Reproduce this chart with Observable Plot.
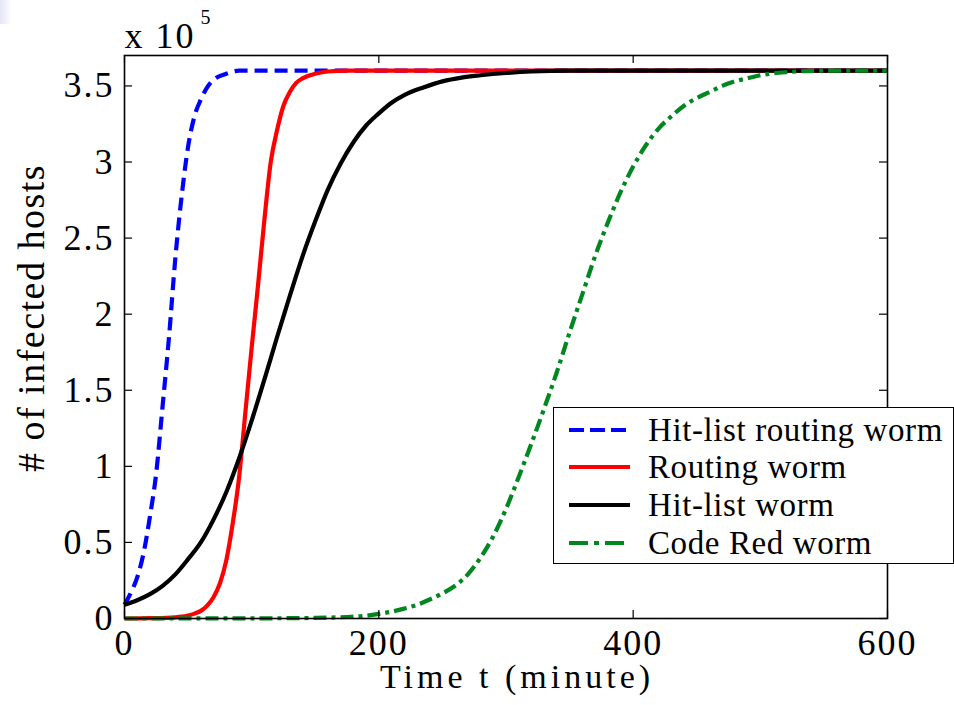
<!DOCTYPE html>
<html><head><meta charset="utf-8">
<script src="https://cdn.jsdelivr.net/npm/d3@7"></script>
<script src="https://cdn.jsdelivr.net/npm/@observablehq/plot@0.6"></script>
<style>
body{margin:0;background:#fff;}
#wrap{position:relative;width:954px;height:705px;overflow:hidden;background:#fff;}
#corner{position:absolute;left:0;top:0;width:12px;height:24px;background:linear-gradient(to right,#e4e4f6,#ffffff);}
#legend{position:absolute;left:553px;top:407px;width:401px;height:157px;box-sizing:border-box;border:1.5px solid #000;background:#fff;font-family:'Liberation Serif','Times New Roman',serif;font-size:33px;color:#000;}
#legend .row{position:absolute;left:0;height:36px;display:flex;align-items:center;}
#legend .row span{position:absolute;left:94px;white-space:nowrap;letter-spacing:0.6px;line-height:36px;top:0;}
#legend svg{position:absolute;left:15px;top:0;}
</style></head><body><div id="wrap"><div id="corner"></div></div>
<script>
// Tick values
const xTicks = [0, 200, 400, 600];
const yTicks = [0, 0.5, 1, 1.5, 2, 2.5, 3, 3.5];
// Series (values in units of 10^5 infected hosts, time in minutes)
const seriesNames = ["Hit-list routing worm", "Routing worm", "Hit-list worm", "Code Red worm"];
const seriesColors = ["#0000ff", "#ff0000", "#000000", "#00871f"];
const seriesDash = ["13,7", null, null, "13,5,4,5"];
const legendDash = ["15,6", null, null, "19,6,5,6"];

const blueT = [0,5,10,15,20,25,30,35,40,45,50,55,60,65,70,80,90,100,150,200,300,400,500,600];
const blueV = [0.09,0.17,0.27,0.43,0.67,0.96,1.40,1.85,2.37,2.78,3.10,3.30,3.41,3.49,3.54,3.58,3.60,3.60,3.60,3.60,3.60,3.60,3.60,3.60];

const redT = [0,20,40,45,50,55,60,65,70,75,80,85,90,95,100,105,110,115,120,125,130,135,140,150,160,175,200,300,400,500,600];
const redV = [0,0.002,0.008,0.012,0.02,0.032,0.05,0.085,0.14,0.23,0.38,0.62,0.92,1.35,1.78,2.19,2.62,3.0,3.21,3.37,3.46,3.52,3.55,3.58,3.595,3.60,3.60,3.60,3.60,3.60,3.60];

const blackT = [0,10,20,30,40,50,60,70,80,90,100,110,120,130,140,150,160,170,180,190,200,210,220,235,250,265,280,300,320,350,400,500,600];
const blackV = [0.09,0.12,0.16,0.215,0.29,0.39,0.50,0.65,0.83,1.05,1.30,1.57,1.85,2.12,2.38,2.61,2.82,2.99,3.13,3.24,3.32,3.39,3.44,3.49,3.53,3.555,3.57,3.585,3.595,3.60,3.60,3.60,3.60];

const greenT = [0,100,150,175,190,200,210,220,230,240,250,260,270,280,290,300,310,320,330,340,350,360,370,380,390,400,410,420,430,440,450,460,470,480,490,500,520,550,600];
const greenV = [0,0.001,0.004,0.01,0.018,0.03,0.045,0.065,0.09,0.125,0.165,0.215,0.29,0.40,0.54,0.72,0.93,1.15,1.38,1.62,1.88,2.13,2.38,2.60,2.80,2.97,3.11,3.22,3.30,3.37,3.42,3.46,3.50,3.53,3.55,3.57,3.59,3.60,3.60];

const xTitle = "Time t (minute)";
const yTitle = "# of infected hosts";
const scaleText = "x 10";
const scaleExp = "5";

const seriesT = [blueT, redT, blackT, greenT];
const seriesV = [blueV, redV, blackV, greenV];
const tables = seriesT.map((ts, i) => ts.map((t, j) => ({t, v: seriesV[i][j], s: seriesNames[i]})));

const W = 954, H = 705, mL = 124, mR = 67, mT = 55, mB = 87;
const pw = W - mL - mR, ph = H - mT - mB, tk = 8;
const font = "'Liberation Serif','Times New Roman',serif";

const lineOrder = [0, 1, 2, 3];
const lineMarks = lineOrder.map(i => Plot.line(tables[i], {
  x: "t", y: "v", stroke: seriesColors[i], strokeWidth: 4.2, curve: "monotone-x",
  strokeDasharray: seriesDash[i] || undefined, strokeLinejoin: "round", strokeLinecap: "butt"
}));

const svg = Plot.plot({
  width: W, height: H,
  marginLeft: mL, marginRight: mR, marginTop: mT, marginBottom: mB,
  style: {fontFamily: font, fontSize: "36px", color: "#000", background: "transparent", overflow: "visible"},
  x: {domain: [0, 600]},
  y: {domain: [0, 3.7]},
  marks: [
    ...lineMarks,
    Plot.ruleY(yTicks, {stroke: "#000", strokeWidth: 1.2, insetRight: pw - tk}),
    Plot.ruleY(yTicks, {stroke: "#000", strokeWidth: 1.2, insetLeft: pw - tk}),
    Plot.ruleX(xTicks, {stroke: "#000", strokeWidth: 1.2, insetTop: ph - tk}),
    Plot.ruleX(xTicks, {stroke: "#000", strokeWidth: 1.2, insetBottom: ph - tk}),
    Plot.frame({stroke: "#000", strokeWidth: 1.6}),
    Plot.axisX(xTicks, {tickSize: 0, tickPadding: 11, fontSize: 36, label: null, tickFormat: d => String(d)}),
    Plot.axisY(yTicks, {tickSize: 0, tickPadding: 10, fontSize: 36, label: null, tickFormat: d => String(d)}),
    Plot.text([xTitle], {frameAnchor: "bottom", text: d => d, lineAnchor: "bottom", textAnchor: "middle", dx: 11, dy: 69, fontSize: 34}),
    Plot.text([yTitle], {frameAnchor: "left", text: d => d, rotate: -90, lineAnchor: "bottom", textAnchor: "middle", dx: -81, dy: -19, fontSize: 38}),
    Plot.text([scaleText], {frameAnchor: "top-left", text: d => d, lineAnchor: "bottom", textAnchor: "start", dx: 0, dy: -8, fontSize: 36}),
    Plot.text([scaleExp], {frameAnchor: "top-left", text: d => d, lineAnchor: "bottom", textAnchor: "start", dx: 76, dy: -32, fontSize: 20})
  ]
});
svg.classList.add("plot");
document.getElementById("wrap").appendChild(svg);

// letter spacing like the original rendering
d3.select(svg).selectAll("text").each(function() {
  const t = this.textContent;
  let ls = "2px";
  if (t === xTitle) ls = "4px";
  else if (t === yTitle) ls = "1.5px";
  else if (t === scaleExp) ls = "0px";
  this.style.letterSpacing = ls;
});

// legend (HTML overlay inside the axes, as in the original)
const legend = d3.select("#wrap").append("div").attr("id", "legend");
const rowTops = [4, 41, 79, 117];
seriesNames.forEach((name, i) => {
  const row = legend.append("div").attr("class", "row").style("top", rowTops[i] + "px").style("width", "390px");
  const s = row.append("svg").attr("width", 64).attr("height", 36);
  s.append("line").attr("x1", 0).attr("x2", 61).attr("y1", 18).attr("y2", 18)
    .attr("stroke", seriesColors[i]).attr("stroke-width", 4)
    .attr("stroke-dasharray", legendDash[i]);
  row.append("span").text(name);
});
</script></body></html>
